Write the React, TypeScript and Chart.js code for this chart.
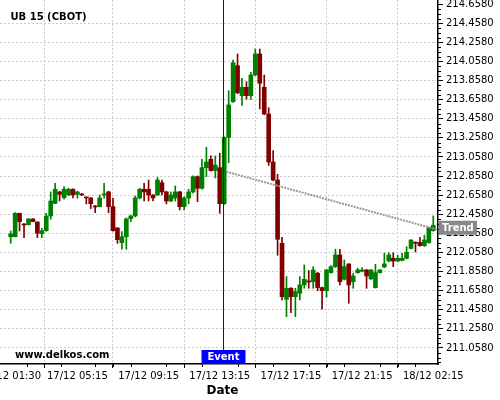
import React, { useEffect, useRef } from 'react';
import { Chart, registerables } from 'chart.js';

Chart.register(...registerables);

// 15-minute candles, index 0 = 17/12 01:30
const opens = [
  212.223, 212.223, 212.468, 212.356, 212.349, 212.409, 212.377, 212.255, 212.286, 212.440,
  212.573, 212.692, 212.632, 212.660, 212.720, 212.667, 212.671, 212.636, 212.629, 212.545,
  212.538, 212.660, 212.692, 212.538, 212.315, 212.161, 212.223, 212.412, 212.440, 212.629,
  212.720, 212.720, 212.660, 212.660, 212.789, 212.692, 212.597, 212.629, 212.692, 212.538,
  212.629, 212.692, 212.852, 212.730, 212.946, 213.034, 212.915, 212.946, 212.569, 213.262,
  213.637, 214.014, 213.700, 213.788, 213.700, 213.917, 214.137, 213.788, 213.508, 213.006,
  212.817, 212.154, 211.568, 211.683, 211.595, 211.631, 211.718, 211.760, 211.752, 211.840,
  211.690, 211.658, 211.847, 211.909, 212.032, 211.777, 211.938, 211.752, 211.847, 211.861,
  211.875, 211.781, 211.690, 211.847, 211.906, 211.969, 211.997, 211.969, 211.975, 211.997,
  212.100, 212.165, 212.163, 212.129, 212.161, 212.286,
];
const highs = [
  212.283, 212.475, 212.470, 212.360, 212.412, 212.412, 212.380, 212.311, 212.468, 212.692,
  212.783, 212.700, 212.747, 212.730, 212.725, 212.700, 212.675, 212.640, 212.632, 212.550,
  212.660, 212.783, 212.700, 212.626, 212.318, 212.276, 212.420, 212.450, 212.650, 212.730,
  212.783, 212.817, 212.665, 212.845, 212.817, 212.700, 212.692, 212.754, 212.700, 212.640,
  212.720, 212.860, 212.860, 213.034, 213.160, 213.069, 213.069, 213.097, 213.270, 213.752,
  214.074, 214.137, 213.882, 213.847, 213.945, 214.189, 214.189, 213.917, 213.574, 213.124,
  212.877, 212.217, 211.805, 211.690, 211.683, 211.805, 211.927, 211.868, 211.909, 211.850,
  211.695, 211.880, 211.920, 212.092, 212.092, 211.980, 211.940, 211.840, 211.893, 211.900,
  211.880, 211.880, 211.934, 211.880, 212.050, 212.056, 212.056, 212.030, 212.050, 212.119,
  212.190, 212.170, 212.217, 212.238, 212.320, 212.440,
];
const lows = [
  212.154, 212.220, 212.283, 212.213, 212.345, 212.381, 212.213, 212.213, 212.280, 212.406,
  212.570, 212.597, 212.615, 212.655, 212.629, 212.626, 212.655, 212.566, 212.517, 212.475,
  212.535, 212.626, 212.475, 212.280, 212.154, 212.092, 212.092, 212.381, 212.430, 212.620,
  212.597, 212.597, 212.597, 212.655, 212.660, 212.566, 212.590, 212.597, 212.503, 212.503,
  212.566, 212.680, 212.590, 212.720, 212.852, 212.910, 212.838, 212.468, 212.560, 212.998,
  213.630, 213.720, 213.599, 213.662, 213.662, 213.910, 213.561, 213.500, 212.970, 212.810,
  212.029, 211.561, 211.386, 211.428, 211.386, 211.561, 211.683, 211.683, 211.683, 211.658,
  211.463, 211.589, 211.840, 211.900, 211.718, 211.770, 211.526, 211.683, 211.840, 211.855,
  211.683, 211.775, 211.685, 211.840, 211.900, 211.960, 211.909, 211.960, 211.970, 211.990,
  212.095, 212.063, 212.125, 212.120, 212.155, 212.280,
];
const closes = [
  212.252, 212.468, 212.381, 212.346, 212.409, 212.381, 212.259, 212.286, 212.440, 212.597,
  212.720, 212.667, 212.720, 212.720, 212.660, 212.692, 212.660, 212.629, 212.569, 212.534,
  212.629, 212.671, 212.538, 212.286, 212.192, 212.223, 212.409, 212.440, 212.629, 212.720,
  212.692, 212.660, 212.629, 212.817, 212.692, 212.597, 212.660, 212.692, 212.538, 212.629,
  212.692, 212.852, 212.730, 212.946, 213.006, 212.915, 212.974, 212.569, 213.262, 213.603,
  214.045, 213.731, 213.788, 213.700, 213.917, 214.137, 213.830, 213.508, 213.006, 212.817,
  212.196, 211.595, 211.683, 211.595, 211.648, 211.718, 211.777, 211.749, 211.875, 211.690,
  211.658, 211.875, 211.909, 212.032, 211.752, 211.909, 211.718, 211.812, 211.875, 211.875,
  211.812, 211.875, 211.847, 211.875, 211.938, 212.032, 211.969, 211.997, 211.997, 212.060,
  212.189, 212.154, 212.129, 212.189, 212.311, 212.343,
];

const tickIndex = [0, 15, 31, 47, 63, 79, 95];
const tickLabels = ['17/12 01:30', '17/12 05:15', '17/12 09:15', '17/12 13:15', '17/12 17:15', '17/12 21:15', '18/12 02:15'];
const yTickValues = [
  211.058, 211.258, 211.458, 211.658, 211.858, 212.058, 212.258, 212.458, 212.658, 212.858,
  213.058, 213.258, 213.458, 213.658, 213.858, 214.058, 214.258, 214.458, 214.658,
];
const eventIndex = 48;
const trendX = [48.5, 96];
const trendY = [212.904, 212.296];

const FONT = '"DejaVu Sans", sans-serif';

export default function App() {
  const ref = useRef<HTMLCanvasElement>(null);

  useEffect(() => {
    const idx = opens.map((_, i) => i);
    const colors = idx.map((i) => (closes[i] >= opens[i] ? '#008000' : '#800000'));

    const overlay = {
      id: 'overlay',
      afterDraw(chart: any) {
        const { ctx, chartArea } = chart;
        const xs = chart.scales.x;
        const ys = chart.scales.y;
        ctx.save();
        // minor ticks x
        ctx.strokeStyle = '#000';
        ctx.lineWidth = 1;
        ctx.beginPath();
        for (let k = 0; k < tickIndex.length - 1; k++) {
          const a = tickIndex[k];
          const b = tickIndex[k + 1];
          for (let q = 1; q < 4; q++) {
            const px = Math.round(xs.getPixelForValue(a + ((b - a) * q) / 4)) + 0.5;
            ctx.moveTo(px, chartArea.bottom);
            ctx.lineTo(px, chartArea.bottom + 3);
          }
        }
        // minor ticks y
        for (let v = yTickValues[0] - 0.15; v < ys.max; v += 0.05) {
          const isMajor = yTickValues.some((t) => Math.abs(t - v) < 0.001);
          if (isMajor || v < ys.min) continue;
          const py = Math.round(ys.getPixelForValue(v)) + 0.5;
          ctx.moveTo(chartArea.right, py);
          ctx.lineTo(chartArea.right + 3, py);
        }
        ctx.stroke();

        // event line
        const ex = Math.round(xs.getPixelForValue(eventIndex)) - 0.5;
        ctx.strokeStyle = '#0000ff';
        ctx.lineWidth = 1;
        ctx.beginPath();
        ctx.moveTo(ex, chartArea.top);
        ctx.lineTo(ex, chartArea.bottom);
        ctx.stroke();
        ctx.fillStyle = '#0000ff';
        ctx.fillRect(ex - 22, chartArea.bottom - 14, 44, 14);
        ctx.fillStyle = '#ffffff';
        ctx.font = 'bold 10px ' + FONT;
        ctx.textAlign = 'center';
        ctx.textBaseline = 'middle';
        ctx.fillText('Event', ex, chartArea.bottom - 6.5);

        // trend label
        const ty = ys.getPixelForValue(trendY[1]) - 2;
        ctx.fillStyle = '#888888';
        ctx.fillRect(chartArea.right + 1, ty - 7, 38, 14);
        ctx.fillStyle = '#ffffff';
        ctx.textAlign = 'left';
        ctx.fillText('Trend', chartArea.right + 4, ty + 0.5);

        // texts
        ctx.fillStyle = '#000';
        ctx.textBaseline = 'alphabetic';
        ctx.fillText('UB 15 (CBOT)', 10.5, 19.5);
        ctx.fillText('www.delkos.com', 15, 357.5);
        ctx.font = 'bold 12px ' + FONT;
        ctx.textAlign = 'center';
        ctx.fillText('Date', 222.5, 393.5);
        ctx.restore();
      },
    };

    const chart = new Chart(ref.current as HTMLCanvasElement, {
      type: 'bar',
      data: {
        datasets: [
          {
            type: 'bar',
            data: idx.map((i) => ({ x: i, y: [lows[i], highs[i]] })) as any,
            backgroundColor: colors,
            borderWidth: 0,
            barThickness: 1,
            grouped: false,
            order: 3,
          },
          {
            type: 'bar',
            data: idx.map((i) => ({ x: i, y: [opens[i], closes[i]] })) as any,
            backgroundColor: colors,
            borderWidth: 0,
            barThickness: 4,
            minBarLength: 1,
            grouped: false,
            order: 2,
          },
          {
            type: 'line',
            data: trendX.map((x, k) => ({ x, y: trendY[k] })) as any,
            borderColor: '#999999',
            borderWidth: 2,
            borderDash: [2, 1],
            pointRadius: 0,
            order: 1,
          },
        ],
      },
      options: {
        responsive: false,
        animation: false,
        devicePixelRatio: 1,
        layout: { padding: 0 },
        plugins: { legend: { display: false }, tooltip: { enabled: false } },
        scales: {
          x: {
            type: 'linear',
            position: 'bottom',
            min: -2.4,
            max: 96.06,
            offset: false,
            afterBuildTicks: (s: any) => {
              s.ticks = tickIndex.map((v) => ({ value: v }));
            },
            afterFit: (s: any) => {
              s.height = 36;
              s.paddingLeft = 0;
              s.paddingRight = 0;
            },
            ticks: {
              autoSkip: false,
              maxRotation: 0,
              padding: 2,
              color: '#000',
              font: { family: FONT, size: 10 },
              callback: (v: any) => {
                const k = tickIndex.indexOf(Number(v));
                return k >= 0 ? tickLabels[k] : '';
              },
            },
            grid: { color: '#cccccc', lineWidth: 1, tickColor: '#000', tickLength: 4, tickWidth: 1 },
            border: { display: true, color: '#000', width: 1.5, dash: [2, 2] },
          },
          y: {
            type: 'linear',
            position: 'right',
            min: 210.89,
            max: 214.702,
            afterBuildTicks: (s: any) => {
              s.ticks = yTickValues.map((v) => ({ value: v }));
            },
            afterFit: (s: any) => {
              s.width = 62;
              s.paddingTop = 0;
              s.paddingBottom = 0;
            },
            ticks: {
              padding: 3,
              color: '#000',
              font: { family: FONT, size: 10 },
              callback: (v: any) => Number(v).toFixed(4),
            },
            grid: {
              color: (c: any) => (c.tick && c.tick.value > 214.6 ? 'rgba(0,0,0,0)' : '#cccccc'),
              lineWidth: 1,
              tickColor: '#000',
              tickLength: 5,
              tickWidth: 1,
            },
            border: { display: true, color: '#000', width: 1.5, dash: [2, 2] },
          },
        },
      } as any,
      plugins: [overlay],
    });
    return () => chart.destroy();
  }, []);

  return (
    <div style={{ position: 'fixed', left: 0, top: 0, width: 500, height: 400, background: '#fff' }}>
      <canvas ref={ref} width={500} height={400} style={{ display: 'block' }} />
    </div>
  );
}
